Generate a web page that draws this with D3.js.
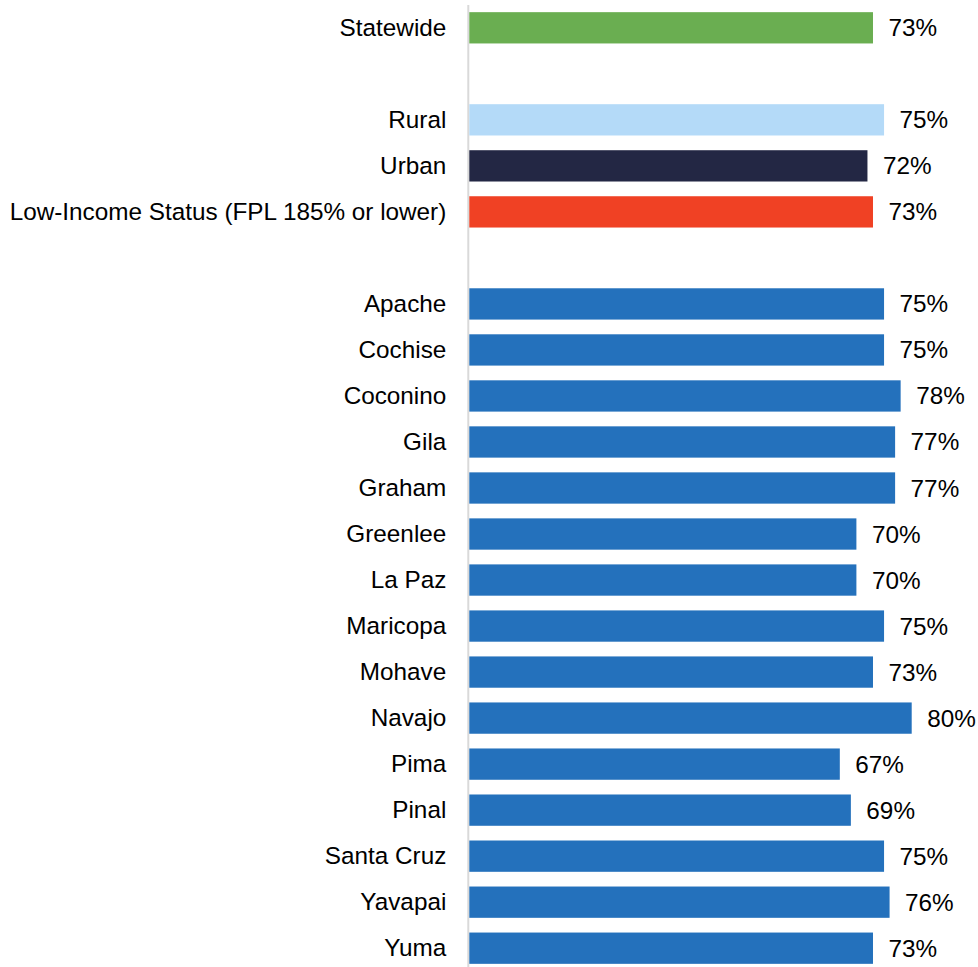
<!DOCTYPE html>
<html>
<head>
<meta charset="utf-8">
<script src="https://cdn.jsdelivr.net/npm/d3@7"></script>
<style>
  html, body { margin: 0; padding: 0; background: #fff; }
  svg { display: block; }
  text { font-family: "Liberation Sans", Arial, sans-serif; fill: #000; }
</style>
</head>
<body>
<svg id="chart" width="978" height="967"></svg>
<script>
// Row labels, top to bottom; empty strings are spacer rows between groups
const categories = [
  "Statewide", "", "Rural", "Urban", "Low-Income Status (FPL 185% or lower)", " ",
  "Apache", "Cochise", "Coconino", "Gila", "Graham", "Greenlee", "La Paz",
  "Maricopa", "Mohave", "Navajo", "Pima", "Pinal", "Santa Cruz", "Yavapai", "Yuma"
];
// Share for each row (null for spacer rows)
const values = [
  0.73, null, 0.75, 0.72, 0.73, null,
  0.75, 0.75, 0.78, 0.77, 0.77, 0.70, 0.70,
  0.75, 0.73, 0.80, 0.67, 0.69, 0.75, 0.76, 0.73
];
// Bar colour group for each row
const groups = [
  "state", null, "rural", "urban", "income", null,
  "county", "county", "county", "county", "county", "county", "county",
  "county", "county", "county", "county", "county", "county", "county", "county"
];

const palette = {
  state: "#6aae51",
  rural: "#b4daf8",
  urban: "#232744",
  income: "#f04124",
  county: "#2471bc"
};

const FONT_SIZE = 24.3;

const svg = d3.select("#chart");
const rows = categories.map((c, i) => ({ label: c, value: values[i], group: groups[i], key: i }));

const y = d3.scaleBand()
  .domain(rows.map(d => d.key))
  .range([4.8, 971.2])
  .paddingInner(0.32)
  .paddingOuter(0.16);

const x = d3.scaleLinear().domain([0, 1]).range([469.3, 1022.3]);

// Category axis
const yAxis = d3.axisLeft(y)
  .tickSize(0)
  .tickPadding(22)
  .tickFormat(k => rows[k].label.trim());

const axisG = svg.append("g")
  .attr("transform", `translate(${x(0) - 1},0)`)
  .call(yAxis);
axisG.select(".domain").remove();
axisG.selectAll("text")
  .attr("font-family", "Liberation Sans, Arial, sans-serif")
  .attr("font-size", FONT_SIZE)
  .attr("fill", "#111");

// Vertical baseline
svg.append("line")
  .attr("x1", x(0) - 1).attr("x2", x(0) - 1)
  .attr("y1", 5).attr("y2", 967)
  .attr("stroke", "#d9d9d9")
  .attr("stroke-width", 2);

const data = rows.filter(d => d.value !== null);

svg.append("g").selectAll("rect")
  .data(data)
  .join("rect")
  .attr("x", x(0))
  .attr("y", d => y(d.key))
  .attr("width", d => x(d.value) - x(0))
  .attr("height", y.bandwidth())
  .attr("fill", d => palette[d.group]);

svg.append("g").selectAll("text")
  .data(data)
  .join("text")
  .attr("x", d => x(d.value) + 15.5)
  .attr("y", d => y(d.key) + y.bandwidth() / 2)
  .attr("dy", "0.35em")
  .attr("font-size", FONT_SIZE)
  .attr("fill", "#111")
  .text(d => d3.format(".0%")(d.value));
</script>
</body>
</html>
